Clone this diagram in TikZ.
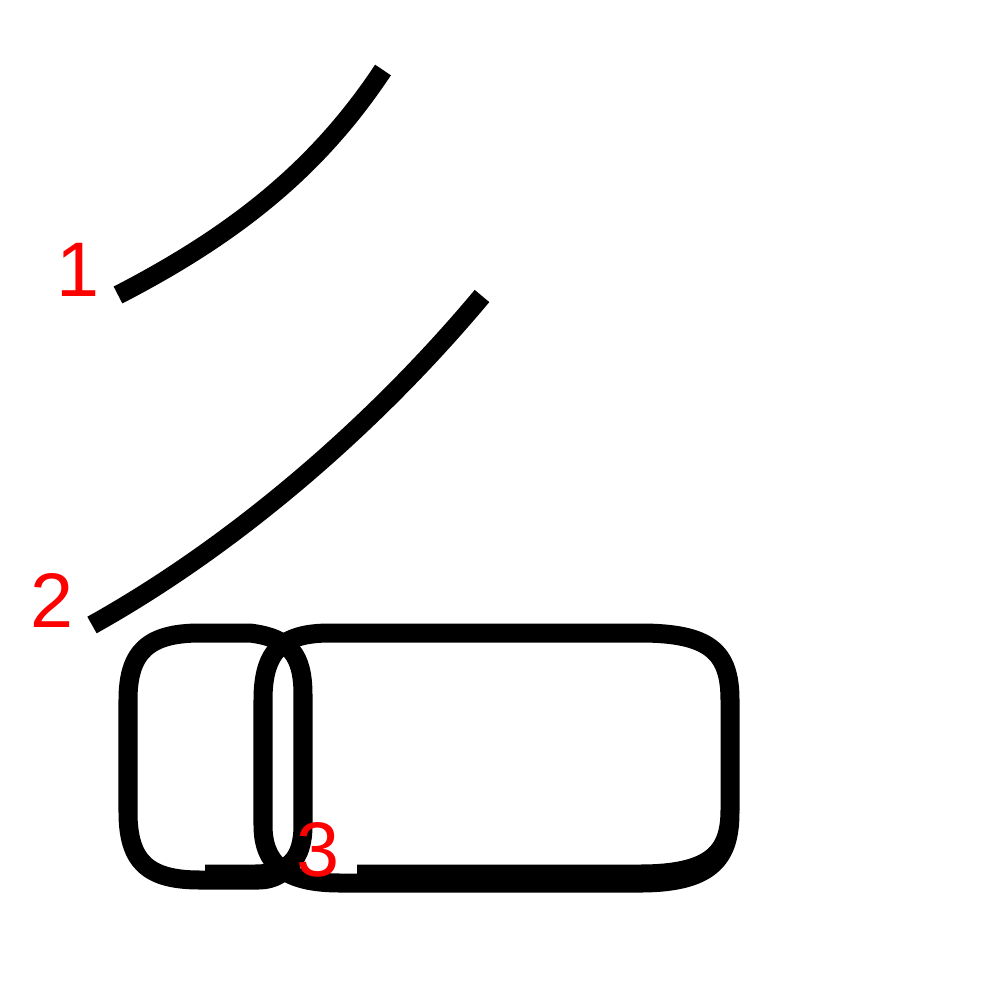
\documentclass[tikz,border=0pt]{standalone}
\usepackage{fontspec}
\setmainfont{Liberation Sans}
\begin{document}
\begin{tikzpicture}[x=0.01cm, y=-0.01cm,
    kstroke/.style={line width=0.19cm, line cap=butt, line join=round},
    num/.style={text=red, font=\fontsize{22}{24}\selectfont, inner sep=0pt}]
  \useasboundingbox (0,0) rectangle (1000,1000);
  % stroke 1
  \draw[kstroke] (118,295) .. controls (240,232) and (320,165) .. (383,70);
  % stroke 2
  \draw[kstroke] (92,625) .. controls (230,548) and (370,430) .. (482,296);
  % stroke 3
  \draw[kstroke] (205,874) -- (255,874) .. controls (288,874) and (303,860) .. (303,825)
      -- (303,695) .. controls (303,655) and (290,638) .. (250,633) -- (200,633)
      .. controls (148,633) and (128,652) .. (128,700) -- (128,812)
      .. controls (128,862) and (148,880) .. (200,880) -- (258,880)
      .. controls (275,880) and (285,872) .. (292,862);
  \draw[kstroke] (357,874) -- (640,874) .. controls (712,874) and (730,852) .. (730,810)
      -- (730,700) .. controls (730,652) and (710,633) .. (640,633) -- (330,633)
      .. controls (283,633) and (263,650) .. (263,700) -- (263,825)
      .. controls (263,864) and (285,883) .. (340,883) -- (640,883)
      .. controls (715,883) and (730,855) .. (730,812);
  % numbers
  \node[num] (n1) at (78,270) {1};
  \node[num] (n2) at (52,600) {2};
  \node[num] (n3) at (318,850) {3};
\end{tikzpicture}
\end{document}
